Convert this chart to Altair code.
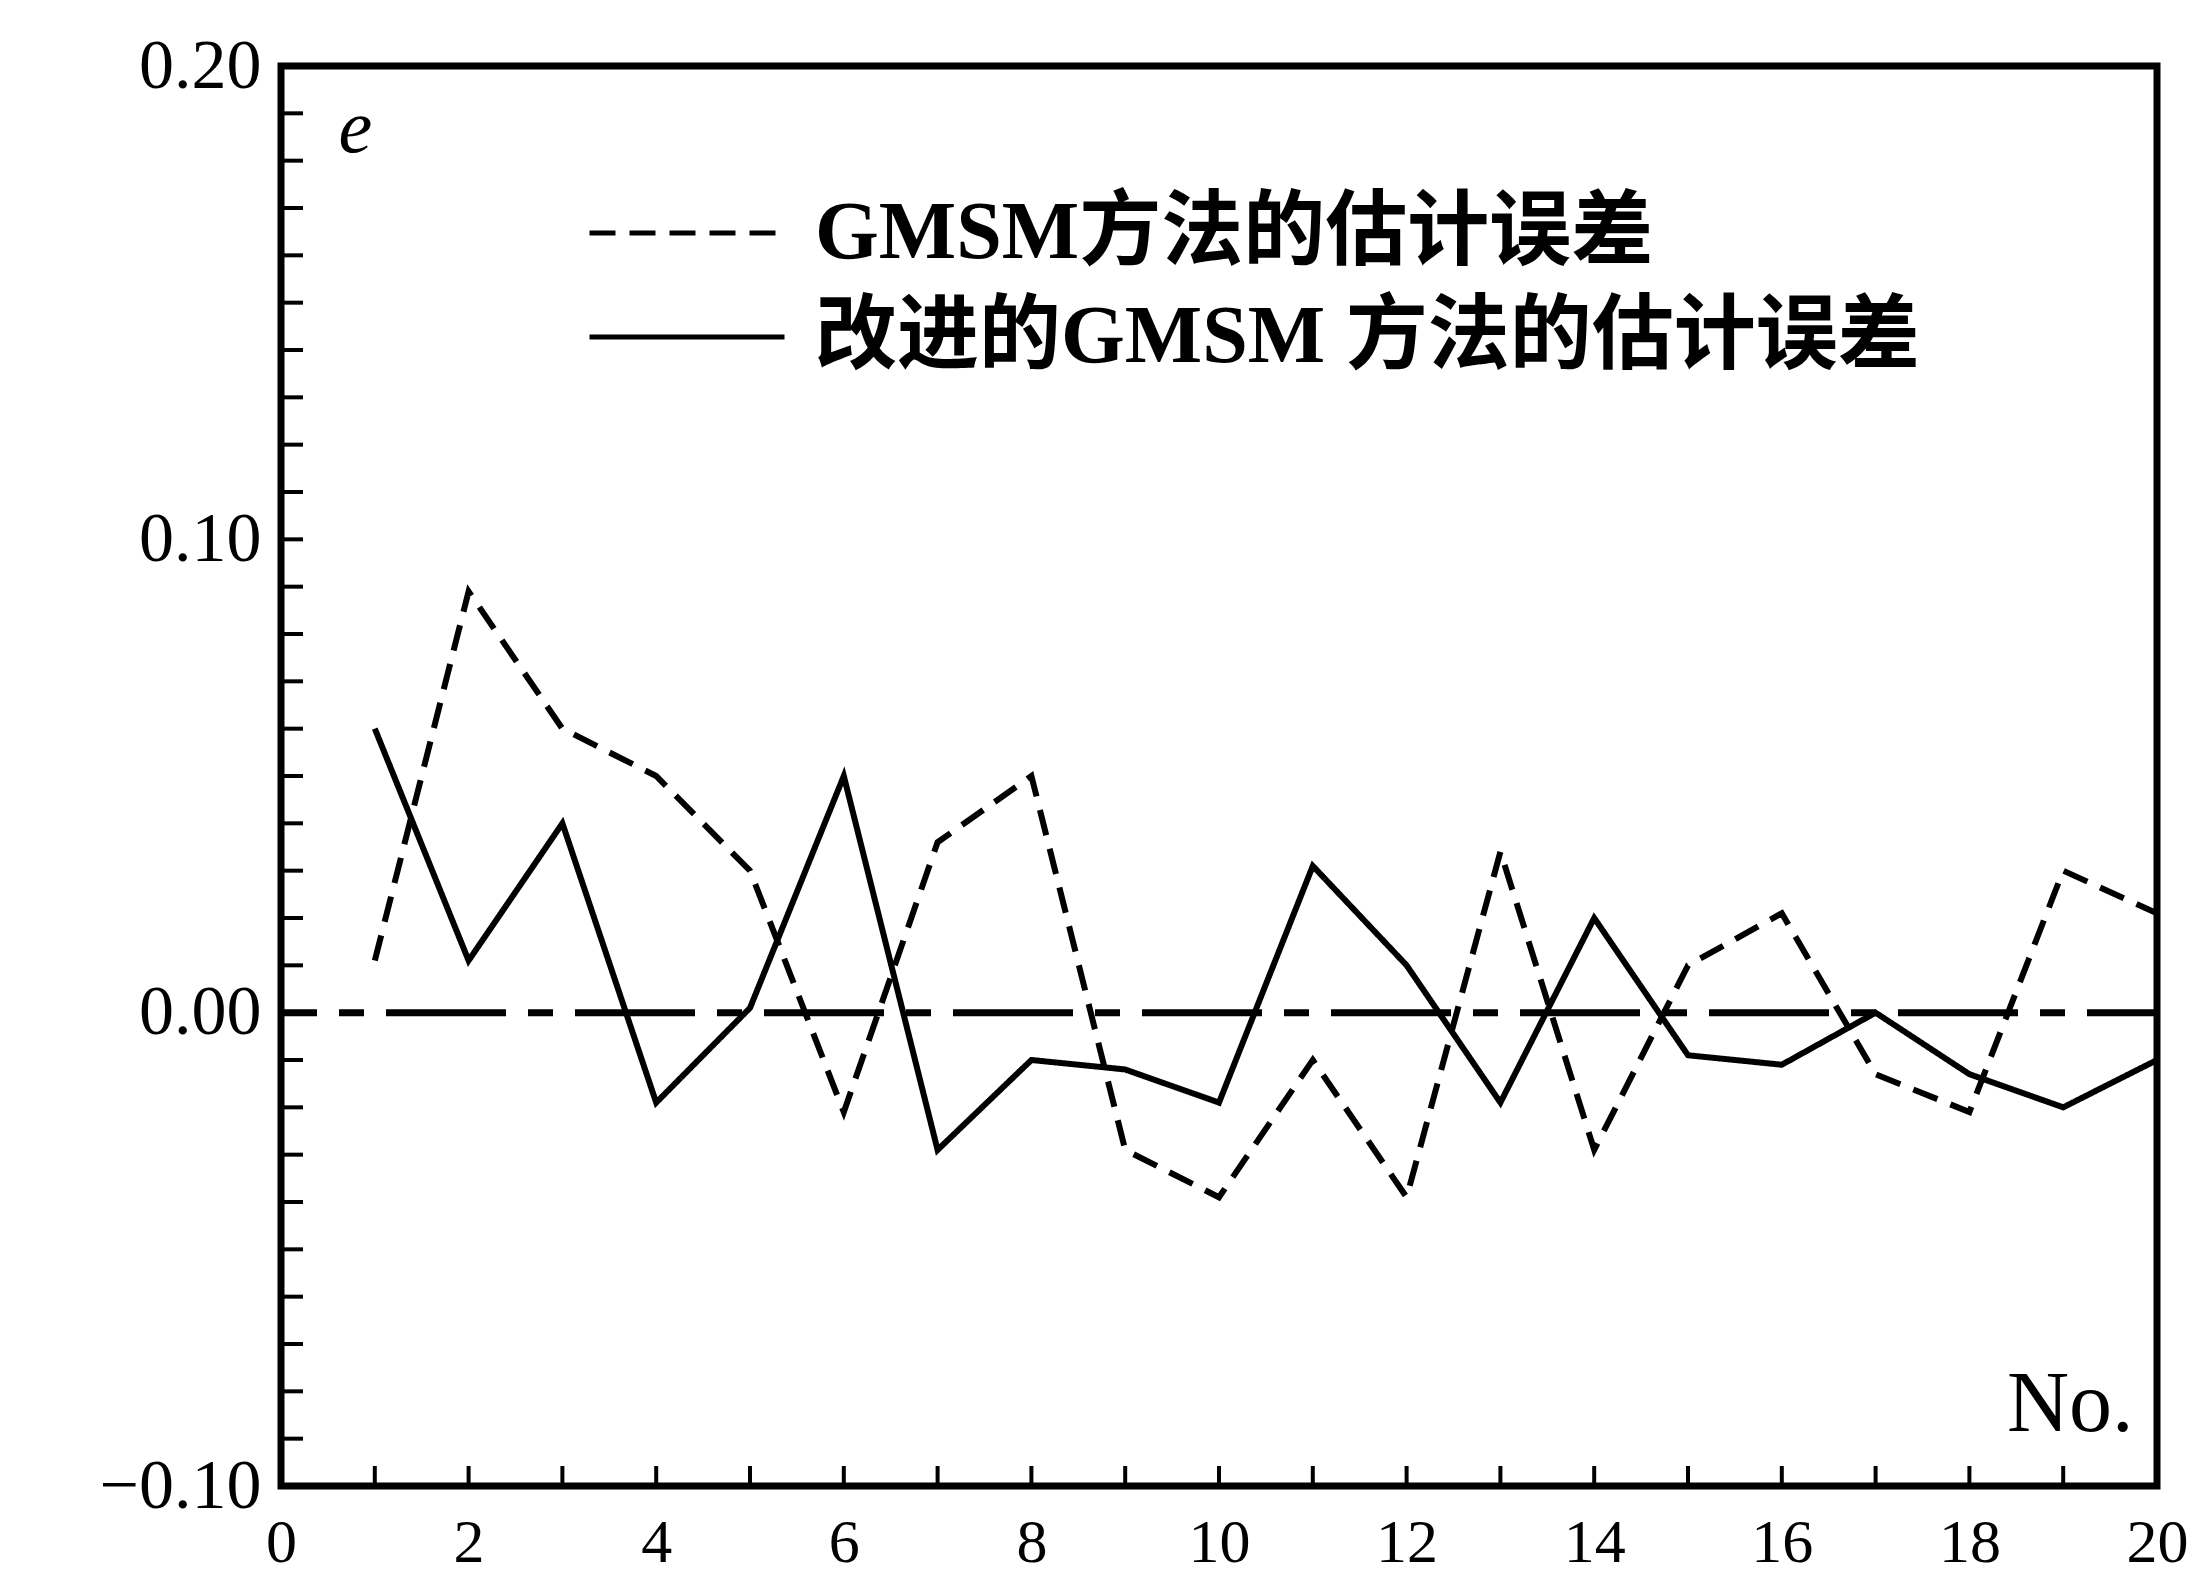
import altair as alt
import pandas as pd

# ---- data ----
sample_no = list(range(1, 21))
gmsm_err = [0.011, 0.089, 0.060, 0.050, 0.030, -0.021, 0.036, 0.050, -0.029, -0.039,
            -0.010, -0.039, 0.034, -0.029, 0.010, 0.021, -0.013, -0.021, 0.030, 0.021]
improved_err = [0.060, 0.011, 0.040, -0.019, 0.001, 0.050, -0.029, -0.010, -0.012, -0.019,
                0.031, 0.010, -0.019, 0.020, -0.009, -0.011, 0.000, -0.013, -0.020, -0.010]
series_names = ["GMSM方法的估计误差", "改进的GMSM 方法的估计误差"]

x_label_values = [0, 2, 4, 6, 8, 10, 12, 14, 16, 18, 20]
y_label_values = [-0.10, 0.00, 0.10, 0.20]
x_minor_ticks = list(range(0, 21))
y_minor_ticks = [round(-0.10 + 0.01 * i, 2) for i in range(31)]
zero_ref = [0.0]

W, H = 1876, 1420
SERIF = "Liberation Serif, Noto Sans CJK SC"

df = pd.DataFrame({
    "No": sample_no * 2,
    "e": gmsm_err + improved_err,
    "series": [series_names[0]] * 20 + [series_names[1]] * 20,
})

x_scale = alt.Scale(domain=[0, 20], nice=False, zero=False)
y_scale = alt.Scale(domain=[-0.10, 0.20], nice=False, zero=False)

x_axis = alt.Axis(
    values=x_label_values, format="d", grid=False, domain=False, ticks=False, tickSize=0,
    labelFont="Liberation Serif", labelFontSize=62, labelColor="black", labelPadding=26,
    labelFlush=False,
    title="No.", titleFont="Liberation Serif", titleFontSize=86, titleFontWeight="normal",
    titleColor="black", titleX=W - 24, titleY=-56, titleAlign="right",
    titleBaseline="alphabetic")
y_axis = alt.Axis(
    values=y_label_values, grid=False, domain=False, ticks=False, tickSize=0,
    labelExpr="datum.value < 0 ? '\u2212' + format(-datum.value, '.2f') : format(datum.value, '.2f')",
    labelFont="Liberation Serif", labelFontSize=70, labelColor="black", labelPadding=20,
    title="e", titleFont="Liberation Serif", titleFontSize=76, titleFontStyle="italic",
    titleFontWeight="normal", titleColor="black", titleAngle=0, titleX=57, titleY=85,
    titleAlign="left", titleBaseline="alphabetic")

lines = alt.Chart(df).mark_line(color="black", strokeWidth=6, clip=True).encode(
    x=alt.X("No:Q", scale=x_scale, axis=x_axis),
    y=alt.Y("e:Q", scale=y_scale, axis=y_axis),
    strokeDash=alt.StrokeDash("series:N", sort=series_names,
        scale=alt.Scale(domain=series_names, range=[[26, 14], [1, 0]]),
        legend=alt.Legend(
            title=None, orient="none", legendX=306, legendY=115, padding=0,
            symbolType="stroke", symbolSize=38025, symbolStrokeWidth=5,
            symbolStrokeColor="black", labelFont=SERIF, labelFontSize=82,
            labelFontWeight="bold", labelColor="black", labelLimit=3000,
            labelOffset=28, clipHeight=104, rowPadding=0)),
)

zero_line = alt.Chart(pd.DataFrame({"e": zero_ref})).mark_rule(
    color="black", strokeWidth=7, strokeDash=[120, 22, 25, 22], strokeDashOffset=50
).encode(y=alt.Y("e:Q", scale=y_scale, axis=y_axis))

y_ticks = alt.Chart(pd.DataFrame({"e": y_minor_ticks})).mark_rule(
    color="black", strokeWidth=4
).encode(y=alt.Y("e:Q", scale=y_scale, axis=y_axis), x=alt.value(0), x2=alt.value(22))

x_ticks = alt.Chart(pd.DataFrame({"No": x_minor_ticks})).mark_rule(
    color="black", strokeWidth=4
).encode(x=alt.X("No:Q", scale=x_scale, axis=x_axis), y=alt.value(H), y2=alt.value(H - 20))

chart = alt.layer(lines, zero_line, y_ticks, x_ticks).properties(
    width=W, height=H,
    autosize=alt.AutoSizeParams(type="none"),
    padding={"left": 273, "top": 58, "right": 32, "bottom": 92},
    background="white",
).configure_view(stroke="black", strokeWidth=7)

chart.save("out.html", embed_options={"renderer": "svg", "actions": False})
